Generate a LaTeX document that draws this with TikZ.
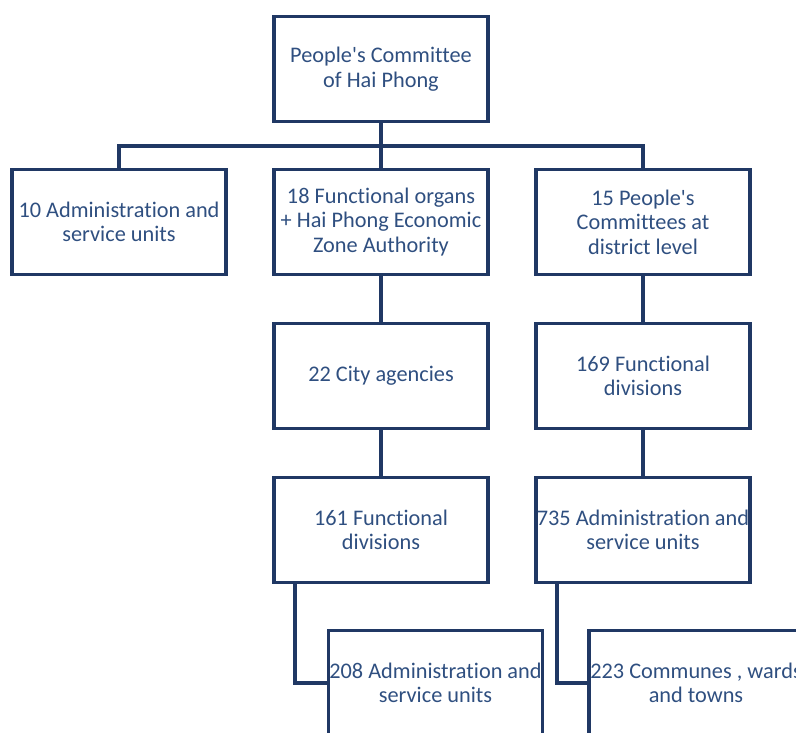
\documentclass[tikz,border=0pt]{standalone}
\usepackage{fontspec}
\setmainfont{Carlito}[Ligatures={NoCommon}]
\definecolor{linec}{HTML}{203864}
\definecolor{textc}{HTML}{2F4F80}
\begin{document}
\begin{tikzpicture}[x=1pt,y=-1pt,
  orgbox/.style={draw=linec,line width=3.6pt,minimum width=214pt,minimum height=105pt,
    inner sep=0pt,align=center,text=textc,font=\fontsize{22.3}{24.5}\selectfont},
  conn/.style={draw=linec,line width=3.6pt}]
\useasboundingbox (0,0) rectangle (796,733);
\clip (0,0) rectangle (796,733);
\node[orgbox] (top) at (381,69) {People\textquotesingle s Committee\\of Hai Phong};
\node[orgbox] (a2) at (119,222) {10 Administration and\\service units};
\node[orgbox] (b2) at (381,222) {18 Functional organs\\+ Hai Phong Economic\\Zone Authority};
\node[orgbox] (c2) at (643,222) {15 People\textquotesingle s\\Committees at\\district level};
\node[orgbox] (b3) at (381,376) {22 City agencies};
\node[orgbox] (c3) at (643,376) {169 Functional\\divisions};
\node[orgbox] (b4) at (381,530) {161 Functional\\divisions};
\node[orgbox] (c4) at (643,530) {735 Administration and\\service units};
\node[orgbox] (b5) at (435.5,683) {208 Administration and\\service units};
\node[orgbox] (c5) at (696,683) {223 Communes , wards\\and towns};
\coordinate (bus) at (381,146);
\draw[conn] (top.south) -- (b2.north);
\draw[conn] (a2.north) |- (bus) -| (c2.north);
\draw[conn] (b2.south) -- (b3.north);
\draw[conn] (c2.south) -- (c3.north);
\draw[conn] (b3.south) -- (b4.north);
\draw[conn] (c3.south) -- (c4.north);
\draw[conn] ([xshift=-86pt]b4.south) |- (b5.west);
\draw[conn] ([xshift=-86pt]c4.south) |- (c5.west);
\end{tikzpicture}
\end{document}
